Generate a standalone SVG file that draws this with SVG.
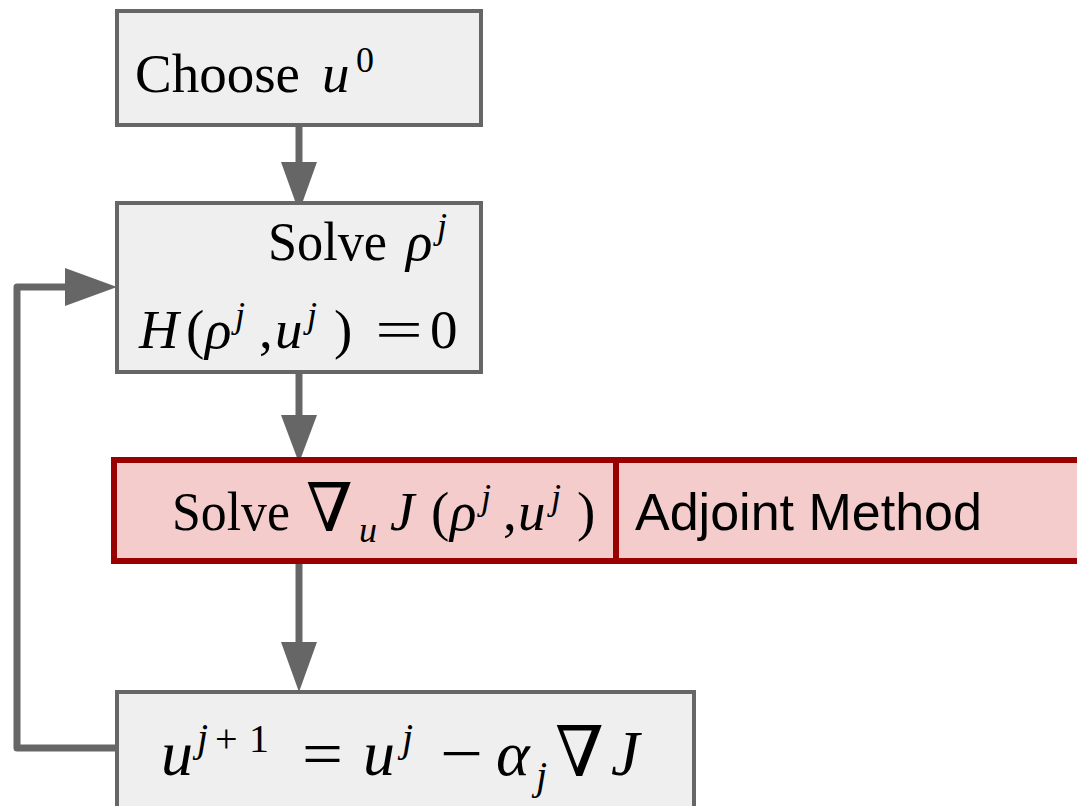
<svg xmlns="http://www.w3.org/2000/svg" width="1077" height="806" viewBox="0 0 1077 806">
<style>
.box{fill:#efefef;stroke:#666666;stroke-width:4}
.red{fill:#f4cccc;stroke:#990000;stroke-width:6}
.cm{font-family:"Liberation Serif","DejaVu Serif",serif;font-size:55px;fill:#000}
.big{font-size:64px}
.it{font-style:italic}
.sup{font-size:36px}
.bsup{font-size:40px}
.nab{font-family:"DejaVu Serif","Liberation Serif",serif;font-weight:normal}
.sans{font-family:"Liberation Sans",Arial,sans-serif;font-size:52px;fill:#000}
.conn{fill:none;stroke:#666666;stroke-width:7}
.head{fill:#666666}
</style>
<rect width="1077" height="806" fill="#ffffff"/>
<g id="connectors">
<line class="conn" x1="299" y1="125" x2="299" y2="165"/>
<polygon class="head" points="281,162 317,162 299,212"/>
<line class="conn" x1="299" y1="372" x2="299" y2="418"/>
<polygon class="head" points="281,415 317,415 299,463"/>
<line class="conn" x1="299" y1="562" x2="299" y2="645"/>
<polygon class="head" points="281,642 317,642 299,692"/>
<path class="conn" d="M117,748 H17 V287 H68" stroke-linejoin="round"/>
<polygon class="head" points="65,268 65,306 117,287"/>
</g>
<g id="choose">
<rect class="box" x="117" y="11" width="364" height="114"/>
<text class="cm"><tspan x="135" y="92">Choose</tspan><tspan class="it" x="322" y="92">u</tspan><tspan class="sup" x="356" y="72">0</tspan></text>
</g>
<g id="solve-rho">
<rect class="box" x="117" y="203" width="364" height="169"/>
<text class="cm"><tspan x="268" y="260" textLength="119" lengthAdjust="spacingAndGlyphs">Solve</tspan><tspan class="it" x="406" y="260">ρ</tspan><tspan class="sup it" x="437" y="238">j</tspan></text>
<text class="cm"><tspan class="it" x="139" y="348">H</tspan><tspan x="186" y="348">(</tspan><tspan class="it" x="205" y="348">ρ</tspan><tspan class="sup it" x="235" y="327">j</tspan><tspan x="259" y="348">,</tspan><tspan class="it" x="275" y="348">u</tspan><tspan class="sup it" x="307" y="327">j</tspan><tspan x="334" y="348">)</tspan><tspan x="375" y="348" textLength="48" lengthAdjust="spacingAndGlyphs">=</tspan><tspan x="430" y="348">0</tspan></text>
</g>
<g id="gradient">
<rect class="red" x="114" y="460" width="1000" height="101"/>
<line x1="616" y1="460" x2="616" y2="561" stroke="#990000" stroke-width="6"/>
<text class="cm"><tspan x="172" y="530" textLength="118" lengthAdjust="spacingAndGlyphs">Solve</tspan><tspan class="nab" x="306" y="531" font-size="67">∇</tspan><tspan class="sup it" x="359" y="542">u</tspan><tspan class="it" x="390" y="530">J</tspan><tspan x="431" y="530">(</tspan><tspan class="it" x="450" y="530">ρ</tspan><tspan class="sup it" x="481" y="509">j</tspan><tspan x="503" y="530">,</tspan><tspan class="it" x="518" y="530">u</tspan><tspan class="sup it" x="551" y="509">j</tspan><tspan x="577" y="530">)</tspan></text>
<text class="sans" x="635" y="530">Adjoint Method</text>
</g>
<g id="update">
<rect class="box" x="117" y="692" width="577" height="120"/>
<text class="cm big"><tspan class="it" x="161" y="775">u</tspan><tspan class="bsup it" x="197" y="751">j</tspan><tspan class="bsup" x="215" y="752">+</tspan><tspan class="bsup" x="249" y="752">1</tspan><tspan x="302" y="775" textLength="41" lengthAdjust="spacingAndGlyphs">=</tspan><tspan class="it" x="363" y="775">u</tspan><tspan class="bsup it" x="402" y="751">j</tspan><tspan x="440" y="775" textLength="43" lengthAdjust="spacingAndGlyphs">−</tspan><tspan class="it" x="496" y="775">α</tspan><tspan class="bsup it" x="536" y="789">j</tspan><tspan class="nab" x="555" y="776" font-size="70">∇</tspan><tspan class="it" x="611" y="775">J</tspan></text>
</g>
</svg>
